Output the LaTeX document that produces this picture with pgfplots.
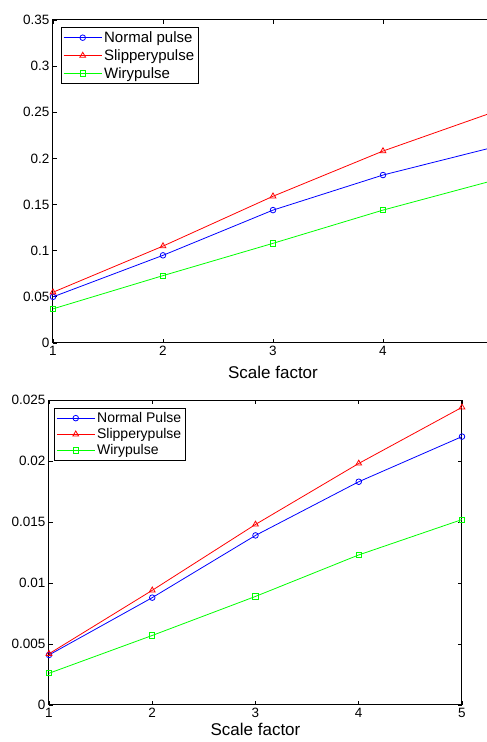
\documentclass[border=0pt]{standalone}
\usepackage{fontspec}
\setmainfont{Liberation Sans}
\usepackage{pgfplots}
\pgfplotsset{compat=1.18}
\definecolor{mblue}{rgb}{0,0,1}
\definecolor{mred}{rgb}{1,0,0}
\definecolor{mgreen}{rgb}{0,1,0}
\begin{document}
\begin{tikzpicture}
\pgfplotsset{
  mystyle/.style={
    scale only axis,
    xmin=1, xmax=5,
    tick align=inside,
    major tick length=4pt,
    axis line style={line width=1pt},
    every tick/.style={black, line width=0.8pt},
    /pgf/number format/assume math mode=true,
    tick label style={font=\fontsize{13.5}{15}\selectfont},
    label style={font=\fontsize{17}{19}\selectfont},
    legend cell align=left,
    legend style={draw=black, line width=0.8pt, inner sep=2pt},
    legend image code/.code={%
      \draw[mark repeat=2,mark phase=2] plot coordinates {(0pt,0pt) (19pt,0pt) (38pt,0pt)};},
    legend image post style={line width=0.8pt},
    every axis plot/.append style={line width=0.8pt},
  },
  sblue/.style={color=mblue, mark=o, mark size=2.8pt},
  sred/.style={color=mred, mark=triangle, mark size=3.3pt},
  sgreen/.style={color=mgreen, mark=square, mark size=2.6pt},
}
% ---------- top axis ----------
\begin{axis}[mystyle,
  at={(53pt,399pt)}, anchor=south west,
  width=440pt, height=323pt,
  xtick={1,2,3,4},
  ymin=0, ymax=0.35,
  ytick={0,0.05,0.1,0.15,0.2,0.25,0.3,0.35},
  yticklabel style={/pgf/number format/fixed, /pgf/number format/precision=2},
  xlabel={Scale factor},
  xlabel style={yshift=-3pt},
  legend style={at={(0.018,0.978)}, anchor=north west,
    font=\fontsize{15}{17}\selectfont, row sep=1.5pt},
]
\addplot[sblue] coordinates {(1,0.050) (2,0.095) (3,0.144) (4,0.182) (5,0.212)};
\addlegendentry{Normal pulse}
\addplot[sred] coordinates {(1,0.055) (2,0.105) (3,0.159) (4,0.208) (5,0.250)};
\addlegendentry{Slipperypulse}
\addplot[sgreen] coordinates {(1,0.037) (2,0.073) (3,0.108) (4,0.144) (5,0.176)};
\addlegendentry{Wirypulse}
\end{axis}
% ---------- bottom axis ----------
\begin{axis}[mystyle,
  at={(49pt,37pt)}, anchor=south west,
  width=413pt, height=305pt,
  xtick={1,2,3,4,5},
  ymin=0, ymax=0.025,
  ytick={0,0.005,0.01,0.015,0.02,0.025},
  scaled y ticks=false,
  yticklabel style={/pgf/number format/fixed, /pgf/number format/precision=3},
  xlabel={Scale factor},
  xlabel style={yshift=2pt},
  legend style={at={(0.012,0.974)}, anchor=north west,
    font=\fontsize{14}{16}\selectfont, row sep=0.5pt},
]
\addplot[sblue] coordinates {(1,0.0041) (2,0.0088) (3,0.0139) (4,0.0183) (5,0.0220)};
\addlegendentry{Normal Pulse}
\addplot[sred] coordinates {(1,0.0042) (2,0.0094) (3,0.0148) (4,0.0198) (5,0.0244)};
\addlegendentry{Slipperypulse}
\addplot[sgreen] coordinates {(1,0.0026) (2,0.0057) (3,0.0089) (4,0.0123) (5,0.0152)};
\addlegendentry{Wirypulse}
\end{axis}
\pgfresetboundingbox
\path[use as bounding box] (0pt,0pt) rectangle (487pt,742pt);
\end{tikzpicture}
\end{document}
